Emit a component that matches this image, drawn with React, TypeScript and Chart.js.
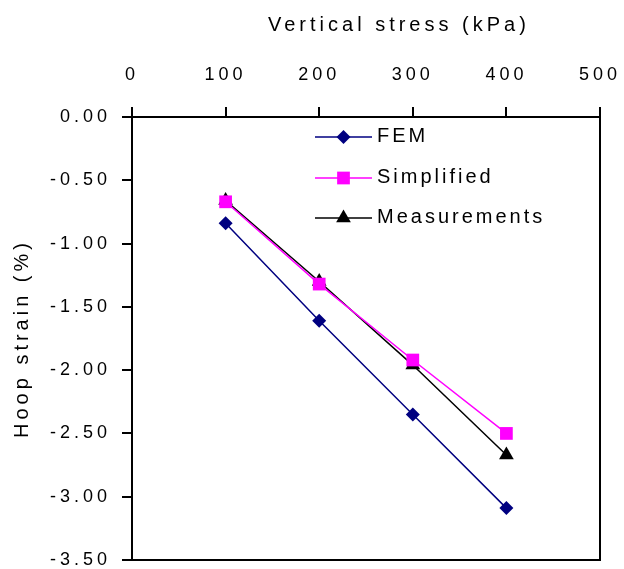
import React, { useEffect, useRef } from 'react';
import { Chart, registerables } from 'chart.js';

Chart.register(...registerables);

// ---- Data ----
const stressKPa = [100, 200, 300, 400];
const femStrain = [-0.84, -1.61, -2.35, -3.09];
const simplifiedStrain = [-0.67, -1.32, -1.92, -2.5];
const measuredStrain = [-0.66, -1.3, -1.96, -2.67];
const seriesNames = ['FEM', 'Simplified', 'Measurements'];
const xAxisTitle = 'Vertical stress (kPa)';
const yAxisTitle = 'Hoop strain (%)';

const FONT = '"Liberation Sans", Arial, sans-serif';

function drawMarker(ctx: CanvasRenderingContext2D, style: string, x: number, y: number, r: number, color: string) {
  ctx.beginPath();
  if (style === 'rectRot') {
    ctx.moveTo(x, y - r);
    ctx.lineTo(x + r, y);
    ctx.lineTo(x, y + r);
    ctx.lineTo(x - r, y);
  } else if (style === 'rect') {
    const h = (r * Math.SQRT2) / 2;
    ctx.rect(x - h, y - h, 2 * h, 2 * h);
  } else {
    ctx.moveTo(x, y - r);
    ctx.lineTo(x + r * 0.866, y + r * 0.5);
    ctx.lineTo(x - r * 0.866, y + r * 0.5);
  }
  ctx.closePath();
  ctx.fillStyle = color;
  ctx.fill();
}

const spacingPlugin = {
  id: 'letterSpacing',
  beforeLayout(chart: any) {
    (chart.ctx as any).letterSpacing = '4px';
  },
  beforeDraw(chart: any) {
    (chart.ctx as any).letterSpacing = '4px';
  },
};

const framePlugin = {
  id: 'frame',
  afterDraw(chart: any) {
    const { ctx, chartArea } = chart;
    ctx.save();
    ctx.strokeStyle = '#000';
    ctx.lineWidth = 2;
    ctx.beginPath();
    ctx.moveTo(chartArea.right, chartArea.top);
    ctx.lineTo(chartArea.right, chartArea.bottom);
    ctx.lineTo(chartArea.left, chartArea.bottom);
    ctx.stroke();
    ctx.restore();
  },
};

const titlePlugin = {
  id: 'xTitle',
  afterDraw(chart: any) {
    const { ctx, chartArea } = chart;
    ctx.save();
    (ctx as any).letterSpacing = '4px';
    ctx.font = `20px ${FONT}`;
    ctx.fillStyle = '#000';
    ctx.textAlign = 'left';
    ctx.textBaseline = 'middle';
    ctx.fillText(xAxisTitle, chartArea.left + 136, 25);
    ctx.restore();
  },
};

const legendPlugin = {
  id: 'insideLegend',
  afterDraw(chart: any) {
    const { ctx, chartArea } = chart;
    const x0 = chartArea.left + 183;
    const x1 = chartArea.left + 240;
    const mx = (x0 + x1) / 2;
    const rows = [chartArea.top + 20, chartArea.top + 61, chartArea.top + 101];
    chart.data.datasets.forEach((ds: any, i: number) => {
      const y = rows[i];
      ctx.save();
      ctx.strokeStyle = ds.borderColor;
      ctx.lineWidth = ds.borderWidth;
      ctx.beginPath();
      ctx.moveTo(x0, y);
      ctx.lineTo(x1, y);
      ctx.stroke();
      drawMarker(ctx, ds.pointStyle, mx, y, ds.pointRadius, ds.pointBackgroundColor);
      (ctx as any).letterSpacing = '3px';
      ctx.font = `20px ${FONT}`;
      ctx.fillStyle = '#000';
      ctx.textAlign = 'left';
      ctx.textBaseline = 'middle';
      ctx.fillText(ds.label, x1 + 5, y - 1);
      ctx.restore();
    });
  },
};

export default function App() {
  const canvasRef = useRef<HTMLCanvasElement | null>(null);

  useEffect(() => {
    if (!canvasRef.current) return;
    const pts = (ys: number[]) => stressKPa.map((x, i) => ({ x, y: ys[i] }));
    const chart = new Chart(canvasRef.current, {
      type: 'line',
      data: {
        datasets: [
          {
            label: seriesNames[0],
            data: pts(femStrain),
            borderColor: '#000080',
            backgroundColor: '#000080',
            pointBackgroundColor: '#000080',
            pointBorderColor: '#000080',
            pointStyle: 'rectRot',
            pointRadius: 7,
            pointBorderWidth: 0,
            borderWidth: 1.5,
            tension: 0,
          },
          {
            label: seriesNames[1],
            data: pts(simplifiedStrain),
            borderColor: '#FF00FF',
            backgroundColor: '#FF00FF',
            pointBackgroundColor: '#FF00FF',
            pointBorderColor: '#FF00FF',
            pointStyle: 'rect',
            pointRadius: 9,
            pointBorderWidth: 0,
            borderWidth: 1.5,
            tension: 0,
          },
          {
            label: seriesNames[2],
            data: pts(measuredStrain),
            borderColor: '#000000',
            backgroundColor: '#000000',
            pointBackgroundColor: '#000000',
            pointBorderColor: '#000000',
            pointStyle: 'triangle',
            pointRadius: 8.5,
            pointBorderWidth: 0,
            borderWidth: 1.5,
            tension: 0,
          },
        ],
      },
      options: {
        responsive: false,
        animation: false,
        layout: { padding: { left: 0, top: 0, right: 24, bottom: 9 } },
        plugins: {
          legend: { display: false },
          tooltip: { enabled: false },
        },
        scales: {
          x: {
            type: 'linear',
            position: 'top',
            min: 0,
            max: 500,
            ticks: {
              stepSize: 100,
              color: '#000',
              font: { family: FONT, size: 18 },
              padding: 21,
              maxRotation: 0,
            },
            grid: {
              display: true,
              drawOnChartArea: false,
              drawTicks: true,
              tickLength: 10,
              color: '#000',
              lineWidth: 2,
            },
            border: { display: true, color: '#000', width: 2 },
            afterFit: (scale: any) => {
              scale.height = 117;
              scale.paddingLeft = 0;
              scale.paddingRight = 0;
              scale.paddingTop = 0;
              scale.paddingBottom = 0;
            },
          },
          y: {
            type: 'linear',
            min: -3.5,
            max: 0,
            ticks: {
              stepSize: 0.5,
              color: '#000',
              font: { family: FONT, size: 18 },
              padding: 11,
              callback: (v: any) => Number(v).toFixed(2),
            },
            title: {
              display: true,
              text: yAxisTitle,
              color: '#000',
              font: { family: FONT, size: 20, weight: 'normal' },
              padding: { top: 10, bottom: 0 },
            },
            grid: {
              display: true,
              drawOnChartArea: false,
              drawTicks: true,
              tickLength: 10,
              color: '#000',
              lineWidth: 2,
            },
            border: { display: true, color: '#000', width: 2 },
            afterFit: (scale: any) => {
              scale.width = 132;
              scale.paddingLeft = 0;
              scale.paddingRight = 0;
              scale.paddingTop = 0;
              scale.paddingBottom = 0;
            },
          },
        },
      } as any,
      plugins: [spacingPlugin, framePlugin, titlePlugin, legendPlugin],
    });
    return () => chart.destroy();
  }, []);

  return (
    <canvas
      ref={canvasRef}
      width={624}
      height={569}
      style={{ position: 'fixed', left: 0, top: 0, width: 624, height: 569, background: '#fff' }}
    />
  );
}
